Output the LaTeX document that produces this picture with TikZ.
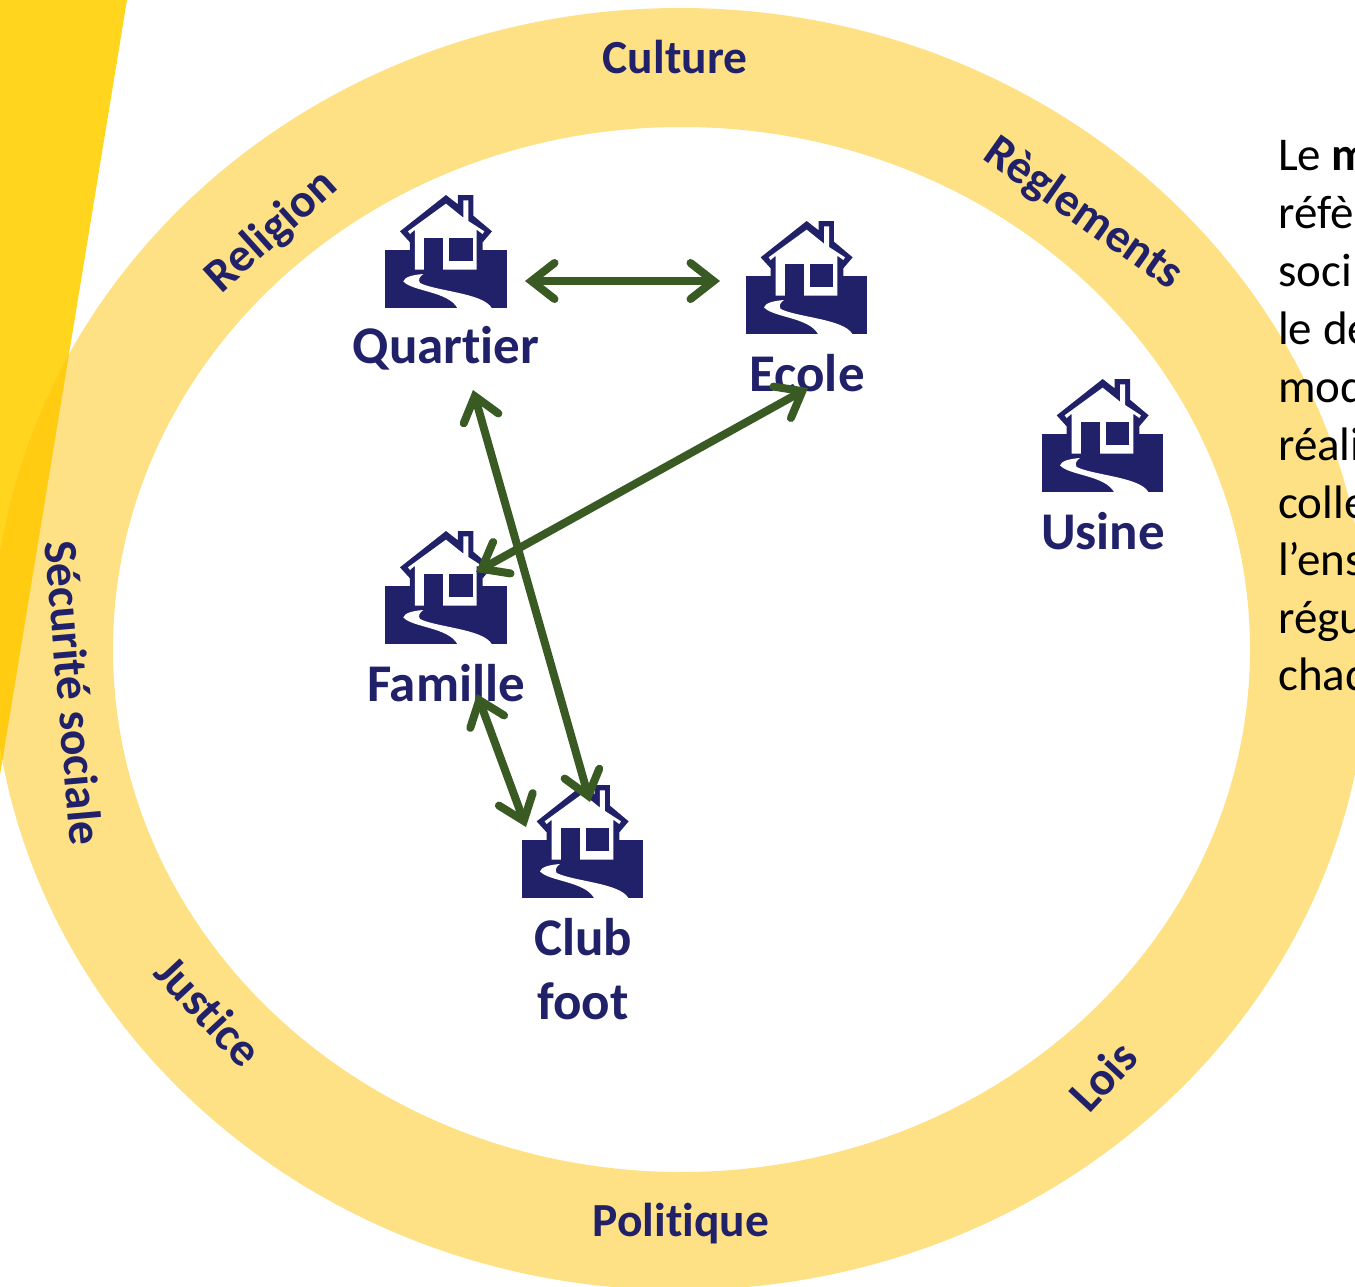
\documentclass[tikz,border=0pt]{standalone}
\usepackage{fontspec}
\setmainfont{Carlito}[Ligatures=NoCommon]
\usetikzlibrary{arrows.meta}
\definecolor{ringc}{HTML}{FEE085}
\definecolor{wedgec}{HTML}{FFD51E}
\definecolor{overc}{HTML}{FFCC11}
\definecolor{navy}{HTML}{212169}
\definecolor{arrowc}{HTML}{3A5A24}
\tikzset{
  x=1pt,y=-1pt,
  lab/.style={font=\fontsize{53}{64}\selectfont\bfseries,text=navy,inner sep=0pt,align=center},
  ringlab/.style={font=\fontsize{47.5}{50}\selectfont\bfseries,text=navy,inner sep=0pt},
  bodytext/.style={font=\fontsize{47}{58}\selectfont,text=black,inner sep=0pt,anchor=base west},
  linktip/.tip={Straight Barb[length=23pt,width=36pt,line width=8pt,line cap=round,line join=miter]},
  link/.style={draw=arrowc,line width=8pt,linktip-linktip},
  pics/house/.style={code={
    \begin{scope}[x=0.3333pt,y=-0.3333pt,shift={(-46,-46)}]
      \fill[navy] (46,210) rectangle (410,385);
      \fill[navy] (90,155)--(228,46)--(264,74)--(264,46)--(310,46)--(310,108)--(366,155)--(338,188)--(338,270)--(120,270)--(120,188)--cycle;
      \fill[white] (114,155)--(228,72)--(280,114)--(280,62)--(295,62)--(295,124)--(343,155)--(338,163)--(320,150)--(320,270)--(135,270)--(135,150)--(120,163)--cycle;
      \fill[navy] (163,175) rectangle (220,272);
      \fill[navy] (237,175) rectangle (308,243);
      \fill[white] (160,283) .. controls (125,286) and (105,292) .. (100,305)
        .. controls (125,335) and (235,335) .. (262,385) -- (365,385)
        .. controls (340,340) and (200,335) .. (150,310)
        .. controls (143,300) and (150,290) .. (160,283) -- cycle;
    \end{scope}
  }}
}
\begin{document}
\begin{tikzpicture}
\useasboundingbox (0,0) rectangle (1355,1286);
\begin{scope}
\clip (0,0) rectangle (1355,1286);
\fill[wedgec] (0,0)--(127,0)--(0,775)--cycle;
\fill[ringc,even odd rule] (680,649) ellipse [x radius=688,y radius=641] (681.5,649.5) ellipse [x radius=568.5,y radius=522.5];
\begin{scope}
\clip (680,649) ellipse [x radius=688,y radius=641];
\fill[overc] (0,0)--(127,0)--(0,775)--cycle;
\end{scope}
\node[bodytext] (t1) at (1278,170) {Le \textbf{m}};
\node[bodytext] (t2) at (1278,228) {réfè};
\node[bodytext] (t3) at (1278,286) {soci};
\node[bodytext] (t4) at (1278,344) {le de};
\node[bodytext] (t5) at (1278,402) {mod};
\node[bodytext] (t6) at (1278,460) {réali};
\node[bodytext] (t7) at (1278,518) {colle};
\node[bodytext] (t8) at (1278,575) {l’ens};
\node[bodytext] (t9) at (1278,633) {régu};
\node[bodytext] (t10) at (1278,690) {chaq};
\end{scope}
\node[ringlab] (culture) at (675,57) {Culture};
\node[ringlab,rotate=42] (religion) at (272,232) {Religion};
\node[ringlab,rotate=-35] (reglements) at (1083,214) {Règlements};
\node[ringlab,rotate=-85] (securite) at (74,693) {Sécurité sociale};
\node[ringlab,rotate=-47] (justice) at (209,1011) {Justice};
\node[ringlab,rotate=47] (lois) at (1103,1076) {Lois};
\node[ringlab] (politique) at (681,1224) {Politique};
\pic at (385.3,195) {house};
\pic at (746,221) {house};
\pic at (1042,379) {house};
\pic at (385.3,531) {house};
\pic at (522,785) {house};
\node[lab] (quartier) at (446,348) {Quartier};
\node[lab] (ecole) at (807,373) {Ecole};
\node[lab] (usine) at (1103,531) {Usine};
\node[lab] (famille) at (446,683) {Famille};
\node[lab] (club) at (583,969) {Club\\foot};
\coordinate (qe) at (525,281);
\coordinate (eq) at (720,281);
\coordinate (qc) at (473,390);
\coordinate (cq) at (590,802);
\coordinate (ef) at (808,388);
\coordinate (fe) at (476,572);
\coordinate (fc) at (477,694);
\coordinate (cf) at (526,827);
\draw[link] (qe) -- (eq);
\draw[link] (qc) -- (cq);
\draw[link] (ef) -- (fe);
\draw[link] (fc) -- (cf);
\end{tikzpicture}
\end{document}
